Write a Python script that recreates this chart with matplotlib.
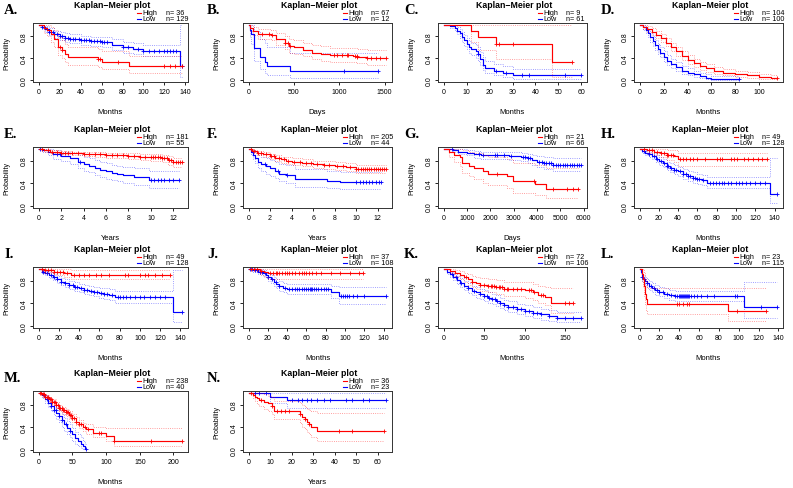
import numpy as np
import matplotlib
matplotlib.use("Agg")
import matplotlib.pyplot as plt

W, H = 793, 489
RED = "#ff0000"
BLUE = "#0000ff"

# ---- data: step times, survival, CI, censor times ----
# A
A_hi_t = [0, 5, 8, 12, 15, 18, 22, 25, 28, 57, 60, 86]
A_hi_s = [1, .94, .91, .83, .75, .6, .55, .47, .42, .38, .33, .25]
A_hi_lo = [1, .85, .8, .7, .6, .45, .4, .32, .28, .24, .2, .13]
A_hi_up = [1, 1, 1, .97, .92, .78, .73, .66, .6, .57, .52, .44]
A_hi_c = [20, 22, 57, 58, 76, 120, 125, 130, 137]
A_lo_t = [0, 3, 6, 10, 15, 20, 25, 30, 40, 50, 60, 70, 80, 90, 100, 135]
A_lo_s = [1, .97, .93, .88, .84, .8, .77, .75, .73, .71, .69, .64, .6, .57, .53, .26]
A_lo_lo = [1, .94, .88, .82, .77, .72, .69, .67, .64, .62, .6, .55, .5, .47, .43, .06]
A_lo_up = [1, 1, .98, .94, .9, .87, .85, .83, .81, .79, .78, .74, .7, .67, .64, 1.0]
A_lo_c = [3, 5, 8, 10, 12, 14, 17, 20, 22, 25, 28, 30, 33, 35, 38, 40, 43, 45, 48,
          50, 53, 56, 58, 60, 62, 65, 80, 85, 95, 100, 105, 110, 115, 120, 122, 125,
          128, 131, 137]

# B
B_hi_t = [0, 20, 50, 100, 250, 300, 400, 450, 500, 600, 700, 800, 900, 1150, 1200, 1300]
B_hi_s = [1, .95, .9, .84, .82, .75, .68, .62, .6, .55, .5, .47, .45, .44, .42, .4]
B_hi_lo = [1, .9, .82, .75, .72, .64, .56, .5, .48, .43, .38, .35, .33, .32, .3, .28]
B_hi_up = [1, 1, .97, .93, .92, .86, .8, .75, .73, .68, .64, .61, .59, .58, .56, .55]
B_hi_c = [150, 230, 260, 400, 430, 460, 940, 980, 1030, 1080, 1100, 1170, 1190, 1200,
          1300, 1350, 1400, 1450, 1520]
B_lo_t = [0, 15, 30, 60, 125, 180, 200, 460]
B_lo_s = [1, .92, .83, .58, .42, .33, .25, .17]
B_lo_lo = [1, .78, .65, .35, .2, .13, .08, .04]
B_lo_up = [1, 1, 1, .9, .75, .68, .6, .5]
B_lo_c = [1050, 1430]

# C
C_hi_t = [0, 12, 15, 23, 47]
C_hi_s = [1, .89, .78, .65, .33]
C_hi_lo = [1, .7, .55, .38, .06]
C_hi_up = [1, 1, 1, 1, 1]
C_hi_c = [23, 24, 30, 56]
C_lo_t = [0, 3, 5, 6, 7, 8, 9, 10, 11, 12, 14, 15, 16, 17, 18, 22, 26, 30]
C_lo_s = [1, .98, .95, .9, .85, .78, .72, .66, .6, .56, .52, .47, .38, .28, .21, .17, .13, .08]
C_lo_lo = [1, .94, .89, .83, .77, .69, .62, .56, .49, .45, .4, .35, .27, .18, .12, .09, .06, .02]
C_lo_up = [1, 1, 1, .97, .93, .88, .82, .77, .71, .68, .64, .6, .51, .42, .34, .29, .25, .2]
C_lo_c = [15, 23, 27, 34, 37, 53, 60]

# D
D_hi_t = [0, 3, 6, 10, 14, 18, 22, 26, 30, 35, 40, 45, 50, 55, 62, 70, 80, 90, 100, 110]
D_hi_s = [1, .97, .93, .88, .82, .76, .68, .6, .52, .44, .36, .3, .25, .21, .17, .13, .1, .08, .05, .03]
D_hi_lo = [1, .93, .88, .82, .76, .69, .61, .52, .44, .36, .29, .23, .18, .15, .11, .08, .05, .04, .02, .01]
D_hi_up = [1, 1, .98, .94, .89, .83, .76, .68, .6, .52, .45, .38, .33, .29, .24, .2, .16, .14, .11, .08]
D_hi_c = [115]
D_lo_t = [0, 3, 5, 7, 9, 11, 13, 15, 17, 20, 23, 26, 30, 35, 40, 45, 50, 55, 60]
D_lo_s = [1, .96, .91, .85, .78, .71, .64, .57, .5, .42, .35, .29, .23, .17, .13, .1, .07, .04, .02]
D_lo_lo = [1, .92, .85, .78, .7, .62, .55, .48, .41, .33, .27, .21, .16, .11, .08, .05, .03, .01, 0]
D_lo_up = [1, 1, .96, .92, .86, .8, .73, .66, .6, .52, .45, .39, .32, .26, .21, .17, .13, .1, .07]
D_lo_c = [83]

# E
E_hi_t = [0, .5, 1, 2, 3, 4, 5, 6, 7, 8, 9, 10, 11, 11.5, 12]
E_hi_s = [1, .98, .96, .94, .93, .92, .91, .9, .89, .88, .87, .86, .84, .81, .77]
E_hi_lo = [1, .96, .94, .91, .89, .88, .86, .85, .84, .83, .81, .8, .77, .73, .68]
E_hi_up = [1, 1, .99, .97, .96, .96, .95, .94, .94, .93, .92, .92, .9, .88, .85]
E_hi_c = [.3, .8, 1.2, 1.6, 2, 2.3, 2.6, 3, 3.5, 4, 4.5, 5, 5.5, 6, 6.5, 7, 7.5, 8, 8.5,
          9, 9.5, 10, 10.2, 10.4, 10.6, 10.8, 11, 11.2, 11.4, 11.6, 11.8, 12, 12.2,
          12.4, 12.6, 12.8]
E_lo_t = [0, .3, .8, 1.3, 2, 2.8, 3.5, 4, 4.5, 5, 5.5, 6, 6.5, 7, 7.5, 8.5, 9.8]
E_lo_s = [1, .98, .95, .91, .88, .84, .78, .74, .71, .67, .64, .61, .58, .56, .54, .51, .46]
E_lo_lo = [1, .95, .9, .83, .79, .74, .67, .62, .59, .55, .51, .48, .45, .43, .4, .37, .32]
E_lo_up = [1, 1, 1, .98, .96, .93, .89, .86, .84, .81, .78, .76, .73, .71, .69, .67, .62]
E_lo_c = [.1, 1.6, 1.9, 3.7, 10, 10.3, 10.6, 10.9, 11.2, 11.6, 12, 12.5]

# F
F_hi_t = [0, .3, .8, 1.3, 2, 2.5, 3, 3.5, 4, 5, 6, 7, 8, 9, 10]
F_hi_s = [1, .97, .94, .91, .88, .85, .82, .8, .78, .76, .74, .72, .7, .68, .65]
F_hi_lo = [1, .95, .9, .87, .83, .8, .76, .74, .72, .7, .67, .65, .63, .61, .58]
F_hi_up = [1, .99, .97, .95, .92, .9, .87, .86, .84, .82, .8, .79, .77, .75, .72]
F_hi_c = [.2, .5, .9, 1.2, 1.6, 2.1, 2.4, 2.8, 3.3, 3.7, 4.2, 4.8, 5.3, 5.8, 6.4, 7,
          7.5, 8.2, 8.8, 9.4, 10, 10.2, 10.4, 10.6, 10.8, 11, 11.2, 11.4, 11.6, 11.8,
          12, 12.2, 12.4, 12.6, 12.8]
F_lo_t = [0, .2, .4, .6, .9, 1.2, 1.6, 2, 2.5, 2.8, 3.5, 4.3, 7.3, 8.5]
F_lo_s = [1, .95, .9, .85, .78, .74, .7, .66, .62, .57, .55, .47, .44, .42]
F_lo_lo = [1, .89, .82, .75, .67, .62, .57, .53, .49, .43, .41, .34, .31, .29]
F_lo_up = [1, 1, .98, .95, .9, .87, .84, .81, .78, .74, .72, .65, .62, .6]
F_lo_c = [1.5, 2.7, 3.6, 10, 10.3, 10.6, 10.9, 11.2, 11.5, 11.8, 12.1, 12.3]

# G
G_hi_t = [0, 250, 450, 700, 800, 1100, 1300, 1700, 1900, 2700, 2950, 3900, 4400]
G_hi_s = [1, .95, .9, .86, .76, .71, .67, .62, .57, .52, .43, .38, .3]
G_hi_lo = [1, .86, .78, .71, .58, .52, .47, .41, .36, .31, .23, .19, .13]
G_hi_up = [1, 1, 1, 1, .98, .95, .93, .9, .86, .83, .76, .73, .66]
G_hi_c = [2300, 3850, 4700, 5300, 5550, 5750]
G_lo_t = [0, 400, 600, 1000, 1300, 1600, 2800, 3300, 3600, 3800, 4000, 4300, 4700]
G_lo_s = [1, .98, .96, .94, .91, .89, .88, .86, .84, .81, .78, .75, .72]
G_lo_lo = [1, .95, .92, .89, .85, .83, .81, .79, .76, .72, .69, .65, .61]
G_lo_up = [1, 1, 1, .99, .97, .96, .95, .94, .92, .9, .88, .86, .84]
G_lo_c = [350, 1500, 1700, 2200, 2300, 2600, 2900, 3400, 3500, 3600, 3700, 4100,
          4200, 4300, 4400, 4500, 4600, 4700, 4800, 4900, 5000, 5100, 5200, 5300,
          5400, 5500, 5600, 5700, 5800, 5900]

# H
H_hi_t = [0, 8, 15, 22, 28, 36, 40]
H_hi_s = [1, .98, .96, .93, .9, .88, .82]
H_hi_lo = [1, .93, .9, .86, .81, .78, .7]
H_hi_up = [1, 1, 1, 1, .99, .98, .94]
H_hi_c = [5, 10, 13, 18, 22, 25, 28, 30, 33, 35, 42, 45, 48, 52, 55, 60, 68, 80, 83,
          86, 95, 98, 101, 108, 112, 118, 123, 127, 132]
H_lo_t = [0, 3, 6, 10, 13, 17, 20, 24, 28, 32, 36, 40, 45, 50, 55, 60, 65, 70, 135]
H_lo_s = [1, .97, .94, .91, .88, .83, .79, .75, .71, .67, .64, .61, .56, .53, .5, .48, .45, .41, .21]
H_lo_lo = [1, .94, .9, .86, .83, .77, .72, .68, .63, .59, .56, .52, .48, .44, .41, .38, .36, .32, .05]
H_lo_up = [1, 1, .98, .96, .94, .89, .86, .82, .78, .75, .72, .69, .65, .62, .59, .57, .55, .51, .84]
H_lo_c = [5, 10, 15, 18, 22, 25, 28, 30, 33, 36, 38, 42, 45, 48, 50, 52, 55, 58, 60,
          62, 66, 73, 76, 79, 82, 85, 88, 92, 95, 100, 103, 106, 110, 115, 120, 125,
          130, 143]

# I
I_hi_t = [0, 5, 15, 25, 32]
I_hi_s = [1, .98, .96, .93, .9]
I_hi_lo = [1, .94, .9, .86, .82]
I_hi_up = [1, 1, 1, 1, .98]
I_hi_c = [3, 6, 9, 12, 15, 18, 21, 24, 28, 35, 40, 45, 50, 57, 62, 70, 85, 88, 100,
          105, 108, 115, 122, 130]
I_lo_t = [0, 3, 6, 10, 14, 18, 22, 26, 30, 35, 40, 45, 50, 55, 60, 65, 70, 75, 133]
I_lo_s = [1, .96, .93, .9, .86, .82, .78, .75, .72, .69, .66, .64, .62, .6, .58, .57, .55, .51, .25]
I_lo_lo = [1, .93, .89, .85, .81, .76, .72, .69, .65, .62, .59, .56, .54, .52, .5, .48, .46, .41, .06]
I_lo_up = [1, .99, .97, .95, .92, .88, .85, .82, .79, .77, .74, .72, .7, .68, .67, .66, .65, .62, .98]
I_lo_c = [4, 8, 12, 15, 18, 22, 26, 30, 34, 36, 38, 42, 45, 48, 52, 55, 58, 62, 65,
          68, 72, 78, 80, 83, 86, 90, 95, 100, 104, 110, 115, 120, 125, 142]

# J
J_hi_t = [0, 12, 16, 20]
J_hi_s = [1, .97, .95, .93]
J_hi_lo = [1, .9, .87, .83]
J_hi_up = [1, 1, 1, 1]
J_hi_c = [3, 6, 9, 13, 22, 25, 28, 30, 32, 35, 38, 40, 42, 45, 48, 52, 55, 58, 60,
          63, 66, 70, 75, 85, 95, 105, 115, 119]
J_lo_t = [0, 5, 10, 15, 18, 20, 23, 26, 29, 32, 36, 40, 85, 94]
J_lo_s = [1, .98, .96, .93, .9, .86, .82, .78, .74, .7, .67, .65, .6, .52]
J_lo_lo = [1, .95, .92, .88, .84, .8, .75, .71, .66, .62, .59, .56, .5, .38]
J_lo_up = [1, 1, 1, .98, .96, .93, .89, .86, .82, .79, .76, .74, .71, .68]
J_lo_c = [2, 4, 7, 9, 12, 14, 17, 20, 24, 28, 32, 38, 42, 45, 48, 50, 52, 55, 58, 60,
          62, 64, 65, 66, 68, 70, 72, 75, 78, 80, 82, 96, 98, 100, 102, 104, 108,
          112, 120, 143]

# K
K_hi_t = [0, 8, 14, 20, 25, 30, 35, 40, 45, 55, 65, 75, 100, 110, 117, 125, 132]
K_hi_s = [1, .97, .94, .9, .86, .82, .78, .75, .73, .71, .68, .65, .63, .59, .55, .51, .4]
K_hi_lo = [1, .93, .88, .83, .78, .73, .68, .65, .62, .6, .57, .53, .5, .45, .41, .36, .23]
K_hi_up = [1, 1, .99, .97, .94, .91, .88, .86, .84, .83, .81, .78, .77, .74, .71, .68, .67]
K_hi_c = [28, 35, 45, 50, 55, 58, 60, 62, 65, 68, 70, 72, 75, 78, 80, 85, 90, 95, 105,
          108, 112, 120, 122, 150, 155, 160]
K_lo_t = [0, 4, 8, 12, 16, 20, 25, 30, 35, 40, 45, 50, 55, 60, 65, 70, 75, 80, 90,
          100, 110, 120, 130, 140]
K_lo_s = [1, .96, .92, .87, .81, .76, .71, .66, .62, .59, .56, .53, .5, .47, .44, .4,
          .36, .33, .29, .26, .23, .2, .17, .14]
K_lo_lo = [1, .92, .87, .81, .74, .68, .63, .58, .54, .5, .47, .44, .41, .38, .35, .31,
           .27, .24, .2, .17, .14, .11, .08, .06]
K_lo_up = [1, 1, .97, .93, .88, .84, .8, .75, .71, .68, .65, .63, .6, .57, .54, .5,
           .46, .43, .39, .36, .33, .3, .27, .25]
K_lo_c = [10, 15, 22, 30, 38, 45, 50, 53, 56, 60, 63, 66, 70, 75, 80, 85, 90, 95, 100,
          105, 110, 115, 120, 130, 140, 150, 160, 170]

# L
L_hi_t = [0, 3, 4, 5, 6, 7, 8, 89]
L_hi_s = [1, .91, .83, .7, .57, .48, .39, .26]
L_hi_lo = [1, .8, .68, .52, .38, .28, .2, .09]
L_hi_up = [1, 1, 1, .94, .85, .78, .66, .67]
L_hi_c = [38, 40, 44, 48, 50, 98, 127]
L_lo_t = [0, 1, 2, 3, 4, 6, 8, 10, 13, 16, 20, 25, 30, 36, 105]
L_lo_s = [1, .95, .9, .86, .83, .79, .75, .71, .67, .63, .6, .57, .54, .52, .34]
L_lo_lo = [1, .91, .85, .8, .76, .72, .68, .63, .59, .55, .52, .49, .46, .43, .14]
L_lo_up = [1, .99, .95, .92, .9, .86, .82, .79, .75, .72, .69, .66, .63, .61, .78]
L_lo_c = [3, 5, 8, 12, 15, 18, 20, 24, 28, 32, 36, 38, 40, 41, 42, 43, 44, 45, 46, 47,
          48, 49, 50, 52, 55, 58, 62, 68, 75, 96, 98, 122, 139]

# M
M_hi_t = [0, 5, 10, 15, 20, 25, 30, 35, 40, 45, 50, 55, 60, 65, 70, 80, 100, 112]
M_hi_s = [1, .98, .94, .89, .84, .79, .74, .7, .66, .61, .56, .5, .45, .4, .36, .3, .24, .16]
M_hi_lo = [1, .96, .91, .85, .8, .74, .69, .64, .6, .55, .49, .43, .38, .33, .28, .22, .15, .06]
M_hi_up = [1, 1, .97, .93, .89, .84, .8, .76, .72, .68, .63, .58, .53, .48, .45, .4, .38, .38]
M_hi_c = [2, 4, 6, 8, 10, 12, 14, 16, 18, 20, 22, 24, 26, 28, 30, 32, 34, 36, 38, 40,
          42, 44, 46, 48, 50, 52, 55, 60, 63, 68, 73, 90, 92, 112, 166, 213]
M_lo_t = [0, 5, 10, 14, 18, 22, 26, 30, 34, 38, 42, 46, 50, 54, 58, 62, 66, 69]
M_lo_s = [1, .97, .9, .83, .77, .7, .65, .59, .52, .45, .39, .33, .27, .21, .16, .11, .06, .02]
M_lo_lo = [1, .92, .83, .75, .68, .61, .55, .49, .41, .34, .28, .22, .16, .11, .07, .03, .01, 0]
M_lo_up = [1, 1, .97, .91, .86, .8, .75, .7, .64, .57, .51, .45, .39, .32, .27, .22, .16, .1]
M_lo_c = [8, 12, 18, 22, 25, 30, 35, 40, 47, 70]

# N
N_hi_t = [0, 2, 3, 4, 5, 7, 9, 11, 12, 24, 25, 26, 27, 28, 29, 32]
N_hi_s = [1, .97, .94, .91, .88, .85, .82, .77, .69, .63, .58, .54, .5, .45, .4, .33]
N_hi_lo = [1, .92, .86, .81, .77, .73, .69, .63, .54, .47, .41, .36, .32, .27, .22, .15]
N_hi_up = [1, 1, 1, 1, 1, .98, .96, .93, .86, .82, .79, .76, .73, .7, .68, .65]
N_hi_c = [1, 6, 11, 13, 15, 17, 19, 24, 26, 28, 42, 48, 63]
N_lo_t = [0, 10, 18]
N_lo_s = [1, .94, .88]
N_lo_lo = [1, .83, .74]
N_lo_up = [1, 1, 1]
N_lo_c = [3, 5, 8, 20, 23, 25, 27, 29, 32, 35, 38, 45, 48, 53, 56, 64]

panel_labels = ["A.", "B.", "C.", "D.", "E.", "F.", "G.", "H.", "I.", "J.", "K.", "L.", "M.", "N."]
x_titles = ["Months", "Days", "Months", "Months", "Years", "Years", "Days", "Months",
            "Months", "Months", "Months", "Months", "Months", "Years"]
x_ticks = [range(0, 141, 20), range(0, 1501, 500), range(0, 61, 10), range(0, 101, 20),
           range(0, 13, 2), range(0, 13, 2), range(0, 6001, 1000), range(0, 141, 20),
           range(0, 141, 20), range(0, 141, 20), range(0, 151, 50), range(0, 141, 20),
           range(0, 201, 50), range(0, 61, 10)]
n_high = [36, 67, 9, 104, 181, 205, 21, 49, 49, 37, 72, 23, 238, 36]
n_low = [129, 12, 61, 100, 55, 44, 66, 128, 128, 108, 106, 115, 40, 23]

g = globals()
high = [[g[p + "_hi_" + k] for k in ("t", "s", "lo", "up", "c")] for p in "ABCDEFGHIJKLMN"]
low = [[g[p + "_lo_" + k] for k in ("t", "s", "lo", "up", "c")] for p in "ABCDEFGHIJKLMN"]

# layout in pixels
cols = [(33, 155, 4), (243, 149, 207), (438, 149, 404), (634, 149, 601)]
rows = [(24, 59), (148, 61), (268, 61), (392, 61)]

plt.rcParams["font.family"] = ["Liberation Sans", "DejaVu Sans"]
fig = plt.figure(figsize=(W / 100, H / 100), dpi=100)


def fx(px):
    return px / W


def fy(py):
    return 1 - py / H


def draw_curve(ax, curve, color, tend):
    t, s, lo, up, c = curve
    xs = list(t) + [tend]
    for ys, ls, lw, al in ((lo, ":", 0.6, 0.5), (up, ":", 0.6, 0.5), (s, "-", 0.85, 1)):
        ax.step(xs, list(ys) + [ys[-1]], where="post", color=color, ls=ls, lw=lw, alpha=al)
    t_arr = np.array(t)
    cy = [s[np.searchsorted(t_arr, v, side="right") - 1] for v in c]
    ax.plot(c, cy, ls="none", marker="+", ms=3.5, mew=0.6, color=color)


for i in range(14):
    col, row = cols[i % 4], rows[i // 4]
    left, width, lab_x = col
    top, height = row
    ax = fig.add_axes([fx(left), fy(top + height), width / W, height / H])
    t_hi_end = max(high[i][0][-1], max(high[i][4]))
    t_lo_end = max(low[i][0][-1], max(low[i][4]))
    xmax = max(t_hi_end, t_lo_end)
    draw_curve(ax, low[i], BLUE, t_lo_end)
    draw_curve(ax, high[i], RED, t_hi_end)
    ax.set_xlim(-0.04 * xmax, 1.04 * xmax)
    ax.set_ylim(-0.04, 1.04)
    ax.set_xticks(list(x_ticks[i]))
    ax.set_yticks([0, 0.4, 0.8])
    ax.set_yticklabels(["0.0", "0.4", "0.8"], rotation=90, va="center")
    ax.tick_params(length=2.5, width=0.6, pad=1.5, labelsize=5)
    for sp in ax.spines.values():
        sp.set_linewidth(0.7)
        sp.set_color("#333333")

    fig.text(fx(left + width / 2 + 2), fy(top - 18.5), "Kaplan\u2212Meier plot",
             ha="center", va="center", fontsize=6.3, fontweight="bold")
    fig.text(fx(left + width / 2), fy(top + height + 30), x_titles[i],
             ha="center", va="center", fontsize=5.5)
    fig.text(fx(left - 26), fy(top + height / 2), "Probability",
             ha="center", va="center", rotation=90, fontsize=5)
    fig.text(fx(lab_x), fy(top - 13), panel_labels[i], ha="left", va="center",
             fontsize=10.5, fontweight="bold", family="Liberation Serif")

    # legend
    for dy, name, n, color in ((10.5, "High", n_high[i], RED), (4.5, "Low", n_low[i], BLUE)):
        yy = fy(top - dy)
        x0 = left + 0.67 * width
        fig.add_artist(plt.Line2D([fx(x0), fx(x0 + 4)], [yy, yy], color=color, lw=0.8))
        fig.text(fx(x0 + 6), yy, name, ha="left", va="center", fontsize=5.2)
        fig.text(fx(left + 0.86 * width), yy, "n= %d" % n, ha="left", va="center",
                 fontsize=5.2)

fig.savefig("out.png", dpi=100)
